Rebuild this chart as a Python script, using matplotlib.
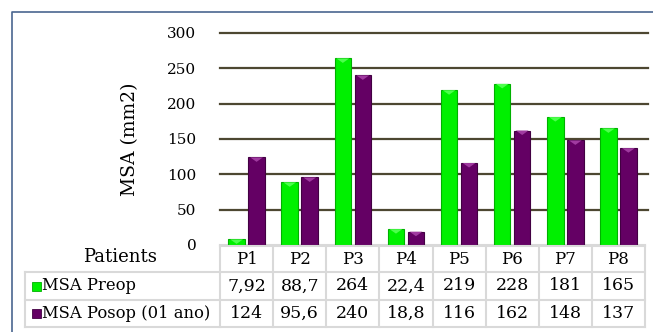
"""MSA pré e pós-operatório por paciente, com tabela de dados"""

import matplotlib

matplotlib.use("Agg")
import matplotlib.pyplot as plt
import numpy as np
from matplotlib.lines import Line2D
from matplotlib.patches import Rectangle

# dados
patients = ["P1", "P2", "P3", "P4", "P5", "P6", "P7", "P8"]
preop = [7.92, 88.7, 264, 22.4, 219, 228, 181, 165]
posop = [124, 95.6, 240, 18.8, 116, 162, 148, 137]
series_names = ["MSA Preop", "MSA Posop (01 ano)"]
yticks = [0, 50, 100, 150, 200, 250, 300]

plt.rcParams["font.family"] = ["DejaVu Serif"]

W, H = 653, 332
fig = plt.figure(figsize=(W / 100, H / 100), dpi=100, facecolor="white")


def px_axes(x0, y0, x1, y1):
    """eixos em coordenadas de pixel (origem no topo)"""
    return fig.add_axes([x0 / W, 1 - y1 / H, (x1 - x0) / W, (y1 - y0) / H])


GREEN, GREEN_EDGE, GREEN_HI = "#00F000", "#00B000", "#4CFF4C"
PURPLE, PURPLE_EDGE, PURPLE_HI = "#640064", "#420042", "#A03AA0"
GRID = "#4D4731"
TABLE = "#D9D9D9"

# moldura externa
frame = fig.add_axes([0, 0, 1, 1], facecolor="none")
frame.set_axis_off()
frame.set_xlim(0, W)
frame.set_ylim(H, 0)
frame.add_line(Line2D([12, 12, W], [H, 12, 12], color="#4A6690", lw=1.2))

# gráfico de barras
ax = px_axes(220, 33, 645, 245)
x = np.arange(len(patients))
off = 10 / 53.125
bw = 16.5 / 53.125
# triângulo de brilho no topo de cada barra (topo do marcador = valor)
top_marker = [(-1, 0), (1, 0), (0, -0.7)]
for vals, dx, c, ec, hi in [
    (preop, -off, GREEN, GREEN_EDGE, GREEN_HI),
    (posop, off, PURPLE, PURPLE_EDGE, PURPLE_HI),
]:
    ax.bar(x + dx, vals, bw, color=c, edgecolor=ec, linewidth=0.8, zorder=3)
    ax.scatter(x + dx, vals, marker=top_marker, s=85, color=hi,
               edgecolor="none", zorder=4, clip_on=False)

ax.set_xlim(-0.5, len(patients) - 0.5)
ax.set_ylim(0, 300)
ax.set_yticks(yticks)
ax.set_yticklabels([str(t) for t in yticks], fontsize=11)
ax.tick_params(axis="y", length=0, pad=17)
ax.set_xticks([])
for t in yticks[1:]:
    ax.axhline(t, color=GRID, lw=1.6, zorder=1, xmax=1.007, clip_on=False)
for s in ["top", "right", "left"]:
    ax.spines[s].set_visible(False)
ax.spines["bottom"].set_color(TABLE)
ax.spines["bottom"].set_linewidth(1.5)
ax.set_facecolor("none")
ax.set_ylabel("MSA (mm2)", fontsize=13.5, labelpad=20)

# tabela de dados
tb = fig.add_axes([0, 0, 1, 1], facecolor="none")
tb.set_axis_off()
tb.set_xlim(0, W)
tb.set_ylim(H, 0)
col_w = 53.125
x0, xl = 220, 25
rows_y = [246, 272, 300, 327]
lkw = dict(color=TABLE, lw=1.5)
# linhas horizontais
tb.add_line(Line2D([x0, x0 + col_w * 8], [rows_y[0]] * 2, **lkw))
for yy in rows_y[1:]:
    tb.add_line(Line2D([xl, x0 + col_w * 8], [yy, yy], **lkw))
# linhas verticais
for i in range(9):
    tb.add_line(Line2D([x0 + i * col_w] * 2, [rows_y[0], rows_y[3]], **lkw))
tb.add_line(Line2D([xl, xl], [rows_y[1], rows_y[3]], **lkw))

tb.text((xl + x0) / 2 - 3, (rows_y[0] + rows_y[1]) / 2 - 2, "Patients",
        ha="center", va="center", fontsize=13)
for i, p in enumerate(patients):
    cx = x0 + (i + 0.5) * col_w
    tb.text(cx, (rows_y[0] + rows_y[1]) / 2 + 1, p, ha="center", va="center", fontsize=12)


def fmt(v):
    return f"{v:g}".replace(".", ",")


for r, (name, vals, c, ec) in enumerate(
    [(series_names[0], preop, GREEN, GREEN_EDGE), (series_names[1], posop, PURPLE, PURPLE_EDGE)]
):
    cy = (rows_y[r + 1] + rows_y[r + 2]) / 2
    tb.add_patch(Rectangle((xl + 7, cy - 4.5), 9, 9, facecolor=c, edgecolor=ec, lw=0.6))
    tb.text(xl + 17, cy, name, ha="left", va="center", fontsize=11.8)
    for i, v in enumerate(vals):
        cx = x0 + (i + 0.5) * col_w
        tb.text(cx, cy, fmt(v), ha="center", va="center", fontsize=12.5)

fig.savefig("out.png", dpi=100, facecolor="white")
